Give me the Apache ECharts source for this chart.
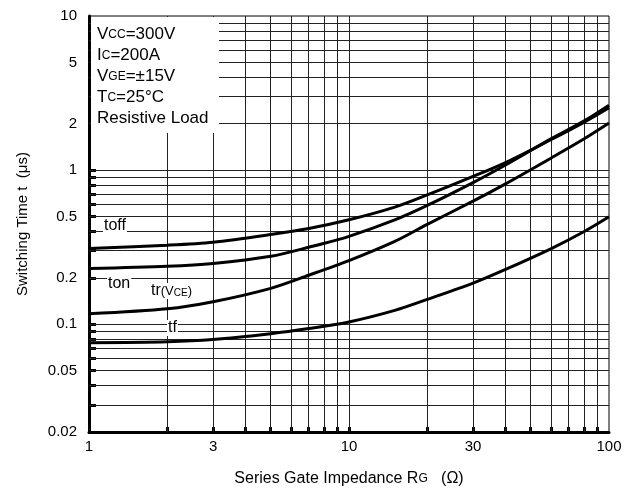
<!DOCTYPE html>
<html><head><meta charset="utf-8">
<script src="https://cdn.jsdelivr.net/npm/echarts@6/dist/echarts.min.js"></script>
<style>html,body{margin:0;padding:0;background:#fff}#c{width:634px;height:496px}</style>
</head><body><div id="c"></div>
<script>
const rg    = [1, 2, 3, 5, 7, 10, 15, 20, 30, 40, 60, 80, 100];
const toff  = [0.31, 0.326, 0.341, 0.382, 0.418, 0.476, 0.575, 0.69, 0.91, 1.12, 1.58, 2.04, 2.54];
const ton   = [0.23, 0.238, 0.248, 0.276, 0.316, 0.372, 0.475, 0.59, 0.83, 1.08, 1.60, 2.08, 2.64];
const tr    = [0.117, 0.126, 0.140, 0.171, 0.208, 0.259, 0.345, 0.445, 0.629, 0.815, 1.20, 1.59, 2.02];
const tf    = [0.0760, 0.0771, 0.0797, 0.0869, 0.0938, 0.1035, 0.123, 0.145, 0.185, 0.227, 0.310, 0.398, 0.498];
const xLabels = [1, 3, 10, 30, 100];
const yLabels = [0.02, 0.05, 0.1, 0.2, 0.5, 1, 2, 5, 10];
const xGrid = [2,3,4,5,6,7,8,9,10,20,30,40,50,60,70,80,90];
const yGrid = [0.03,0.04,0.05,0.06,0.07,0.08,0.09,0.1,0.2,0.3,0.4,0.5,0.6,0.7,0.8,0.9,1,2,3,4,5,6,7,8,9];

const chart = echarts.init(document.getElementById('c'), null, {renderer:'canvas'});
const font = 'Liberation Sans, Arial, sans-serif';
const pair = arr => rg.map((x, i) => [x, arr[i]]);
const curve = (name, arr) => ({
  name, type: 'line', data: pair(arr), showSymbol: false, smooth: 0.3,
  lineStyle: {color: '#000', width: 3}, z: 5, silent: true
});
const lbl = (text, x, y) => ({
  type: 'text', left: x, top: y, z: 10,
  style: {text, font: '16px ' + font, fill: '#000', backgroundColor: '#fff',
    padding: [0, 1, 0, 1],
    rich: {s: {fontSize: 13, fontFamily: font, fill: '#000'},
           t: {fontSize: 10, fontFamily: font, fill: '#000', padding: [4, 0, 0, 0]}}}
});
chart.setOption({
  animation: false,
  backgroundColor: '#fff',
  grid: {left: 89, top: 16, width: 520, height: 416, show: true, borderColor: '#000', borderWidth: 1, backgroundColor: 'transparent'},
  xAxis: {
    type: 'log', logBase: 10, min: 1, max: 100,
    name: 'Series Gate Impedance R{s|G}   (Ω)', nameLocation: 'middle', nameGap: 39,
    nameTextStyle: {fontSize: 16, fontFamily: font, color: '#000', rich: {s: {fontSize: 12, fontFamily: font, color:'#000'}}},
    axisLine: {show: true, lineStyle: {color: '#000', width: 3}},
    axisTick: {show: true, inside: true, length: 5, lineStyle: {color: '#000', width: 3}, customValues: xGrid},
    axisLabel: {customValues: xLabels, formatter: v => String(v), fontSize: 15, fontFamily: font, color: '#000', margin: 7},
    splitLine: {show: false},
    minorTick: {show: false}, minorSplitLine: {show: false}
  },
  yAxis: {
    type: 'log', logBase: 10, min: 0.02, max: 10,
    name: 'Switching Time t  (μs)', nameLocation: 'middle', nameGap: 59,
    nameTextStyle: {fontSize: 15, fontFamily: font, color: '#000'},
    axisLine: {show: true, lineStyle: {color: '#000', width: 3}},
    axisTick: {show: true, inside: true, length: 7, lineStyle: {color: '#000', width: 3}, customValues: yGrid},
    axisLabel: {customValues: yLabels, formatter: v => String(v), fontSize: 15, fontFamily: font, color: '#000', margin: 12},
    splitLine: {show: false},
    minorTick: {show: false}, minorSplitLine: {show: false}
  },
  graphic: [
    {type: 'rect', shape: {x: 91, y: 17, width: 128, height: 116}, style: {fill: '#fff'}, z: 8},
    {type: 'text', left: 97, top: 24, z: 10, style: {
      text: 'V{s|CC}=300V\nI{s|C}=200A\nV{s|GE}=±15V\nT{s|C}=25°C\nResistive Load',
      font: '17px ' + font, fill: '#000', lineHeight: 21,
      rich: {s: {fontSize: 12, fontFamily: font, fill: '#000', lineHeight: 21}}}},
    lbl('toff', 103, 218),
    lbl('ton', 107, 276),
    lbl('tr{s|(V}{t|CE}{s|)}', 150, 283),
    lbl('tf', 167, 320)
  ],
  series: [
    {type: 'line', data: [], silent: true, z: 1,
     markLine: {silent: true, symbol: 'none', animation: false, label: {show: false},
       lineStyle: {color: '#222', width: 1, type: 'solid'},
       data: xGrid.map(v => ({xAxis: v})).concat(yGrid.map(v => ({yAxis: v})))}},
    curve('toff', toff), curve('ton', ton), curve('tr', tr), curve('tf', tf)
  ]
});
</script></body></html>
